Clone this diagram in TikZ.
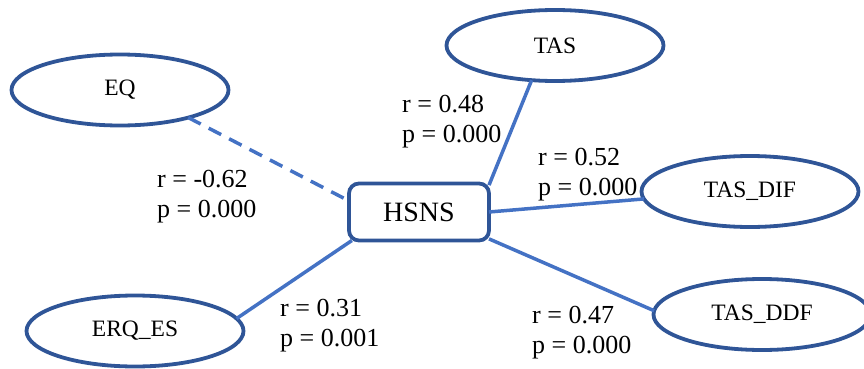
\documentclass[tikz,border=0pt]{standalone}
\usepackage{fontspec}
\setmainfont{Liberation Serif}
\usetikzlibrary{shapes.geometric}
\definecolor{ebord}{HTML}{2F5597}
\definecolor{elink}{HTML}{4472C4}
\begin{document}
\begin{tikzpicture}[x=1pt,y=-1pt,
  varell/.style={ellipse, draw=ebord, line width=3.8pt, inner sep=0pt, outer sep=0pt,
    minimum width=217pt, minimum height=71pt, font=\fontsize{23.5}{26}\selectfont},
  hbox/.style={rectangle, rounded corners=10pt, draw=ebord, line width=3.8pt, inner sep=0pt,
    outer sep=0pt, minimum width=140pt, minimum height=57pt, font=\fontsize{28}{32}\selectfont},
  link/.style={draw=elink, line width=3.5pt},
  neglink/.style={link, dash pattern=on 14pt off 9pt},
  stat/.style={anchor=base west, align=left, inner sep=0pt, font=\fontsize{26}{30}\selectfont}]
\useasboundingbox (0,0) rectangle (864,369);
\node[varell] (EQ) at (120,90) {EQ};
\node[varell] (TAS) at (555,45.5) {TAS};
\node[varell] (DIF) at (750,191.5) {TAS\_DIF};
\node[varell] (DDF) at (762,314.5) {TAS\_DDF};
\node[varell] (ERQ) at (135,331) {ERQ\_ES};
\node[hbox] (H) at (419,212) {HSNS};
\draw[neglink] (EQ.-22) -- (H.171);
\draw[link] (TAS.-124) -- (H.21);
\draw[link] (DIF.-176) -- (H.0);
\draw[link] (DDF.178) -- (H.-21);
\draw[link] (ERQ.7.6) -- (H.203);
\node[stat] (sTAS) at (402,142) {r = 0.48\\p = 0.000};
\node[stat] (sEQ) at (157,217) {r = -0.62\\p = 0.000};
\node[stat] (sDIF) at (538,195) {r = 0.52\\p = 0.000};
\node[stat] (sERQ) at (280,346) {r = 0.31\\p = 0.001};
\node[stat] (sDDF) at (532,353) {r = 0.47\\p = 0.000};
\end{tikzpicture}
\end{document}
